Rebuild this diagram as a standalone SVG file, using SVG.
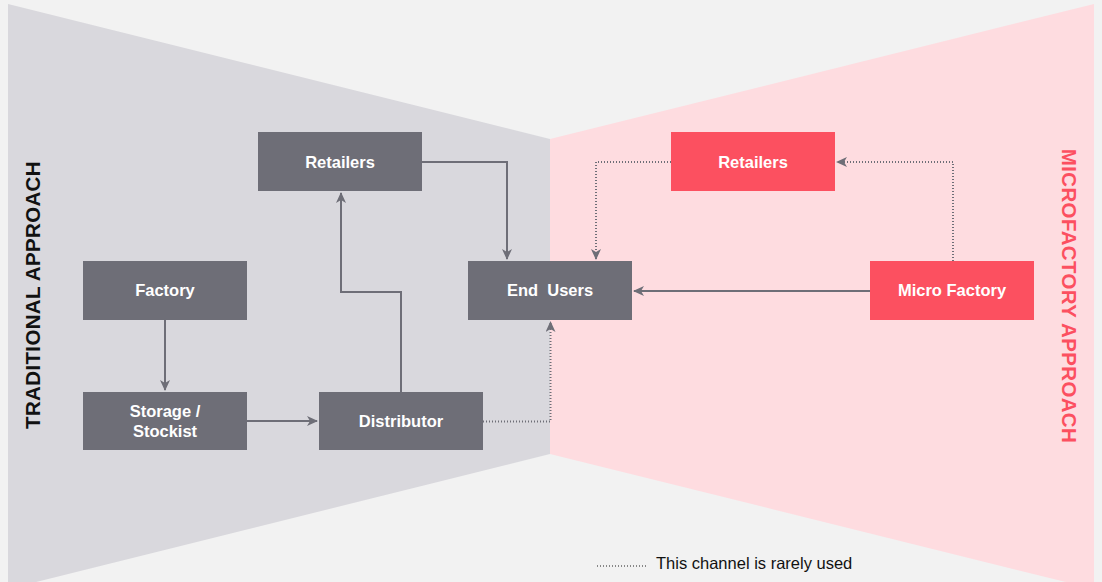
<svg xmlns="http://www.w3.org/2000/svg" width="1102" height="582" viewBox="0 0 1102 582">
<style>
.gbox{fill:#6e6e77}
.rbox{fill:#fc5060}
.lbl{font-family:"Liberation Sans",Arial,sans-serif;font-weight:bold;font-size:16.5px;fill:#ffffff;text-anchor:middle}
.solid{fill:none;stroke:#6e6e77;stroke-width:2}
.dot{fill:none;stroke:#6e6e77;stroke-width:2;stroke-dasharray:1 2}
.title{font-family:"Liberation Sans",Arial,sans-serif;font-weight:bold;font-size:20.5px;letter-spacing:0.35px;text-anchor:middle}
</style>
<defs>
<marker id="arr" markerWidth="12" markerHeight="10" refX="10" refY="5" orient="auto" markerUnits="userSpaceOnUse">
<path d="M0,0 L11,5 L0,10 L3,5 Z" fill="#6e6e77"/>
</marker>
</defs>
<rect width="1102" height="582" fill="#f2f2f2"/>
<polygon points="8,4 550,139 550,454 8,589" fill="#d9d8dd"/>
<polygon points="550,139 1094,4 1094,589 550,454" fill="#fedce0"/>
<text class="title" fill="#111111" transform="translate(40,295) rotate(-90)">TRADITIONAL APPROACH</text>
<text class="title" fill="#fc5060" transform="translate(1062,296) rotate(90)">MICROFACTORY APPROACH</text>
<g id="connectors">
<path class="solid" d="M422,162 H507 V259" marker-end="url(#arr)"/>
<path class="solid" d="M401,392 V292 H341 V193" marker-end="url(#arr)"/>
<path class="solid" d="M165,320 V390" marker-end="url(#arr)"/>
<path class="solid" d="M247,421 H317" marker-end="url(#arr)"/>
<path class="dot" d="M483,421.5 H550.5 V322" marker-end="url(#arr)"/>
<path class="solid" d="M870,291 H634" marker-end="url(#arr)"/>
<path class="dot" d="M953,261 V162 H837" marker-end="url(#arr)"/>
<path class="dot" d="M671,162 H596 V259" marker-end="url(#arr)"/>
</g>
<g id="retailers-left"><rect class="gbox" x="258" y="132" width="164" height="59"/><text class="lbl" x="340" y="168">Retailers</text></g>
<g id="factory"><rect class="gbox" x="83" y="261" width="164" height="59"/><text class="lbl" x="165" y="296">Factory</text></g>
<g id="storage"><rect class="gbox" x="83" y="392" width="164" height="58"/><text class="lbl" x="165" y="417">Storage /</text><text class="lbl" x="165" y="437">Stockist</text></g>
<g id="distributor"><rect class="gbox" x="319" y="392" width="164" height="58"/><text class="lbl" x="401" y="427">Distributor</text></g>
<g id="end-users"><rect class="gbox" x="468" y="261" width="164" height="59"/><text class="lbl" x="550" y="296" xml:space="preserve">End  Users</text></g>
<g id="retailers-right"><rect class="rbox" x="671" y="132" width="164" height="59"/><text class="lbl" x="753" y="168">Retailers</text></g>
<g id="micro-factory"><rect class="rbox" x="870" y="261" width="164" height="59"/><text class="lbl" x="952" y="296">Micro Factory</text></g>
<g id="legend">
<path d="M597,566 H647" fill="none" stroke="#888888" stroke-width="2" stroke-dasharray="1 2"/>
<text x="656" y="569" font-family="'Liberation Sans',Arial,sans-serif" font-size="16.5" fill="#111111">This channel is rarely used</text>
</g>
</svg>
